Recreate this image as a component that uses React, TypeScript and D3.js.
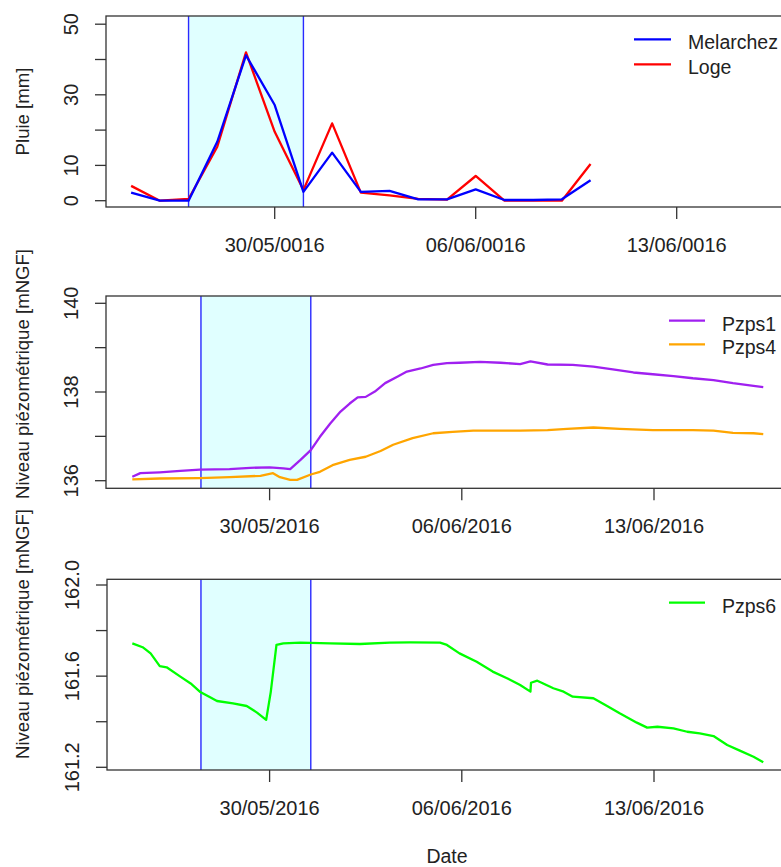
import React from 'react';
import * as d3 from 'd3';

const parse = d3.timeParse('%Y-%m-%d %H:%M');

// ---------- Data ----------
const rainDates = [
  '2016-05-25 00:00', '2016-05-26 00:00', '2016-05-27 00:00', '2016-05-28 00:00',
  '2016-05-29 00:00', '2016-05-30 00:00', '2016-05-31 00:00', '2016-06-01 00:00',
  '2016-06-02 00:00', '2016-06-03 00:00', '2016-06-04 00:00', '2016-06-05 00:00',
  '2016-06-06 00:00', '2016-06-07 00:00', '2016-06-08 00:00', '2016-06-09 00:00',
  '2016-06-10 00:00',
];
const melarchez = [2.3, 0, 0, 16.7, 41.2, 27.1, 2.5, 13.6, 2.5, 2.8, 0.4, 0.4, 3.2, 0.2, 0.2, 0.4, 5.8];
const loge = [4.2, 0, 0.5, 15.3, 42.0, 19.5, 3.0, 21.9, 2.3, 1.5, 0.5, 0.3, 7.0, 0, 0, 0, 10.4];

const pzps1Dates = [
  '2016-05-25 00:00', '2016-05-25 07:00', '2016-05-26 00:00', '2016-05-26 18:00',
  '2016-05-27 11:00', '2016-05-28 13:00', '2016-05-29 07:00', '2016-05-30 00:00',
  '2016-05-30 12:00', '2016-05-30 18:00', '2016-05-31 03:00', '2016-05-31 12:00',
  '2016-05-31 20:00', '2016-06-01 05:00', '2016-06-01 14:00', '2016-06-01 22:00',
  '2016-06-02 05:00', '2016-06-02 12:00', '2016-06-02 20:00', '2016-06-03 05:00',
  '2016-06-03 16:00', '2016-06-04 00:00', '2016-06-04 12:00', '2016-06-04 23:00',
  '2016-06-05 11:00', '2016-06-05 22:00', '2016-06-06 16:00', '2016-06-07 10:00',
  '2016-06-08 03:00', '2016-06-08 12:00', '2016-06-09 03:00', '2016-06-10 01:00',
  '2016-06-10 19:00', '2016-06-11 12:00', '2016-06-12 06:00', '2016-06-12 23:00',
  '2016-06-13 17:00', '2016-06-14 10:00', '2016-06-15 04:00', '2016-06-15 21:00',
  '2016-06-16 15:00', '2016-06-16 23:30',
];
const pzps1 = [
  136.09, 136.17, 136.19, 136.22, 136.25, 136.26, 136.29, 136.30,
  136.28, 136.26, 136.47, 136.69, 136.99, 137.29, 137.56, 137.74,
  137.88, 137.89, 138.01, 138.20, 138.35, 138.46, 138.53, 138.61,
  138.65, 138.66, 138.68, 138.66, 138.63, 138.69, 138.62, 138.61,
  138.57, 138.51, 138.44, 138.40, 138.36, 138.31, 138.27, 138.20,
  138.14, 138.11,
];

const pzps4Dates = [
  '2016-05-25 00:00', '2016-05-26 00:00', '2016-05-27 11:00', '2016-05-28 13:00',
  '2016-05-29 16:00', '2016-05-30 03:00', '2016-05-30 09:00', '2016-05-30 18:00',
  '2016-05-31 00:00', '2016-05-31 12:00', '2016-05-31 20:00', '2016-06-01 07:00',
  '2016-06-01 22:00', '2016-06-02 12:00', '2016-06-03 01:00', '2016-06-03 12:00',
  '2016-06-04 05:00', '2016-06-04 23:00', '2016-06-05 16:00', '2016-06-06 10:00',
  '2016-06-07 10:00', '2016-06-08 03:00', '2016-06-09 03:00', '2016-06-09 20:00',
  '2016-06-10 19:00', '2016-06-11 18:00', '2016-06-12 23:00', '2016-06-14 10:00',
  '2016-06-15 04:00', '2016-06-15 21:00', '2016-06-16 15:00', '2016-06-16 23:30',
];
const pzps4 = [
  136.03, 136.05, 136.06, 136.08, 136.11, 136.17, 136.08, 136.02,
  136.02, 136.14, 136.20, 136.35, 136.47, 136.54, 136.67, 136.81,
  136.96, 137.07, 137.10, 137.13, 137.13, 137.13, 137.14, 137.17,
  137.20, 137.17, 137.14, 137.14, 137.13, 137.08, 137.07, 137.05,
];

const pzps6Dates = [
  '2016-05-25 00:00', '2016-05-25 09:00', '2016-05-25 16:00', '2016-05-26 00:00',
  '2016-05-26 06:00', '2016-05-26 18:00', '2016-05-27 03:00', '2016-05-27 11:00',
  '2016-05-27 20:00', '2016-05-28 02:00', '2016-05-28 16:00', '2016-05-29 04:00',
  '2016-05-29 13:00', '2016-05-29 21:00', '2016-05-30 01:00', '2016-05-30 06:00',
  '2016-05-30 12:00', '2016-05-31 03:00', '2016-06-01 05:00', '2016-06-02 07:00',
  '2016-06-03 09:00', '2016-06-04 03:00', '2016-06-05 05:00', '2016-06-05 11:00',
  '2016-06-05 22:00', '2016-06-06 13:00', '2016-06-07 03:00', '2016-06-07 16:00',
  '2016-06-08 03:00', '2016-06-08 12:00', '2016-06-08 12:30', '2016-06-08 18:00',
  '2016-06-09 08:00', '2016-06-09 17:00', '2016-06-10 01:00', '2016-06-10 19:00',
  '2016-06-11 07:00', '2016-06-11 18:00', '2016-06-12 09:00', '2016-06-12 18:00',
  '2016-06-13 03:00', '2016-06-13 17:00', '2016-06-14 05:00', '2016-06-14 16:00',
  '2016-06-15 04:00', '2016-06-15 16:00', '2016-06-16 03:00', '2016-06-16 15:00',
  '2016-06-16 23:30',
];
const pzps6 = [
  161.744, 161.727, 161.700, 161.644, 161.639, 161.598, 161.568, 161.532,
  161.507, 161.491, 161.481, 161.469, 161.440, 161.408, 161.530, 161.737,
  161.744, 161.747, 161.744, 161.741, 161.747, 161.748, 161.747, 161.737,
  161.700, 161.663, 161.620, 161.590, 161.561, 161.532, 161.571, 161.580,
  161.547, 161.532, 161.510, 161.503, 161.469, 161.437, 161.396, 161.374,
  161.378, 161.371, 161.356, 161.349, 161.337, 161.298, 161.273, 161.246,
  161.222,
];

const shadeRain = ['2016-05-27 00:00', '2016-05-31 00:00'];
const shadePiezo = ['2016-05-27 12:00', '2016-05-31 12:00'];
const tickDates = ['2016-05-30 00:00', '2016-06-06 00:00', '2016-06-13 00:00'];

const rainTicks = [0, 10, 20, 30, 40, 50];
const rainLabels = [0, 10, 30, 50];
const p14Ticks = [136, 137, 138, 139, 140];
const p14Labels = [136, 138, 140];
const p6Ticks = [161.2, 161.4, 161.6, 161.8, 162.0];
const p6Labels = [161.2, 161.6, 162.0];

// ---------- Styling ----------
const FONT = '"Liberation Sans", Arial, Helvetica, sans-serif';
const TXT = '#222';
const AX = '#333';

type Series = { dates: string[]; values: number[]; color: string; name: string };

function Panel(props: {
  left: number; top: number; bottom: number; right: number;
  x: d3.ScaleTime<number, number>;
  y: d3.ScaleLinear<number, number>;
  series: Series[];
  shade: string[];
  yTicks: number[]; yLabels: number[]; yFmt: (v: number) => string;
  xFmt: (d: Date) => string;
  ylabel: string; ylabelY: number;
  legendX: number; legendY: number; legendStep: number; legendLen: number;
  legendOrder: number[];
  clipId: string;
}) {
  const p = props;
  const s0 = p.x(parse(p.shade[0])!);
  const s1 = p.x(parse(p.shade[1])!);
  const line = d3.line<[Date, number]>().x(d => p.x(d[0])).y(d => p.y(d[1]));
  return (
    <g>
      <defs>
        <clipPath id={p.clipId}>
          <rect x={p.left} y={p.top} width={p.right - p.left} height={p.bottom - p.top} />
        </clipPath>
      </defs>
      <g clipPath={`url(#${p.clipId})`}>
        <rect x={s0} y={p.top} width={s1 - s0} height={p.bottom - p.top} fill="#E0FFFF" />
        <line x1={s0} x2={s0} y1={p.top} y2={p.bottom} stroke="#2a2aff" strokeWidth={1.4} />
        <line x1={s1} x2={s1} y1={p.top} y2={p.bottom} stroke="#2a2aff" strokeWidth={1.4} />
        {p.series.map((s, i) => {
          const pts: [Date, number][] = s.dates.map((d, j) => [parse(d)!, s.values[j]]);
          return <path key={i} d={line(pts) || ''} fill="none" stroke={s.color} strokeWidth={2.3} strokeLinejoin="round" />;
        })}
      </g>
      <rect x={p.left} y={p.top} width={p.right - p.left} height={p.bottom - p.top} fill="none" stroke={AX} strokeWidth={1.3} />
      {p.yTicks.map((t, i) => (
        <line key={i} x1={p.left - 11} x2={p.left} y1={p.y(t)} y2={p.y(t)} stroke={AX} strokeWidth={1.3} />
      ))}
      {p.yLabels.map((t, i) => (
        <text key={i} transform={`translate(${p.left - 28},${p.y(t)}) rotate(-90)`} textAnchor="middle"
          fontFamily={FONT} fontSize={20} fill={TXT}>{p.yFmt(t)}</text>
      ))}
      {tickDates.map((d, i) => {
        const xx = p.x(parse(d)!);
        return (
          <g key={i}>
            <line x1={xx} x2={xx} y1={p.bottom} y2={p.bottom + 12} stroke={AX} strokeWidth={1.3} />
            <text x={xx} y={p.bottom + 44.5} textAnchor="middle" fontFamily={FONT} fontSize={20} fill={TXT}>
              {p.xFmt(parse(d)!)}
            </text>
          </g>
        );
      })}
      <text transform={`translate(29,${p.ylabelY}) rotate(-90)`} textAnchor="middle" fontFamily={FONT}
        fontSize={18.6} fill={TXT}>{p.ylabel}</text>
      {p.legendOrder.map((si, i) => {
        const s = p.series[si];
        const ly = p.legendY + i * p.legendStep;
        return (
          <g key={i}>
            <line x1={p.legendX} x2={p.legendX + p.legendLen} y1={ly} y2={ly} stroke={s.color} strokeWidth={2.2} />
            <text x={p.legendX + p.legendLen + 17} y={ly + 10} fontFamily={FONT} fontSize={19.5} fill={TXT}>{s.name}</text>
          </g>
        );
      })}
    </g>
  );
}

export default function App() {
  const RIGHT = 800;
  const xTopRef = d3.scaleTime()
    .domain([parse(tickDates[0])!, parse(tickDates[2])!]).range([274.7, 676.7]);
  const xTop = d3.scaleTime().domain([xTopRef.invert(106), xTopRef.invert(RIGHT)]).range([106, RIGHT]);
  const yTop = d3.scaleLinear().domain([0, 50]).range([200.7, 24.2]);

  const xPzRef = d3.scaleTime()
    .domain([parse(tickDates[0])!, parse(tickDates[2])!]).range([269.6, 654]);
  const xMid = d3.scaleTime().domain([xPzRef.invert(106), xPzRef.invert(RIGHT)]).range([106, RIGHT]);
  const yMid = d3.scaleLinear().domain([136, 140]).range([480.7, 303.3]);

  const xBot = d3.scaleTime().domain([xPzRef.invert(107), xPzRef.invert(RIGHT)]).range([107, RIGHT]);
  const yBot = d3.scaleLinear().domain([161.2, 162.0]).range([767.3, 585]);

  const fmtTop = d3.timeFormat('%d/%m/0016');
  const fmtPz = d3.timeFormat('%d/%m/%Y');

  return (
    <svg width={781} height={867} style={{ position: 'absolute', left: 0, top: 0, background: '#fff' }}>
      <rect x={0} y={0} width={781} height={867} fill="#fff" />
      <Panel left={106} top={16} bottom={207} right={RIGHT} x={xTop} y={yTop}
        series={[
          { dates: rainDates, values: loge, color: '#FF0000', name: 'Loge' },
          { dates: rainDates, values: melarchez, color: '#0000FF', name: 'Melarchez' },
        ]}
        shade={shadeRain} yTicks={rainTicks} yLabels={rainLabels} yFmt={v => String(v)}
        xFmt={fmtTop} ylabel="Pluie [mm]" ylabelY={111.5}
        legendX={634} legendY={39.3} legendStep={25} legendLen={37} legendOrder={[1, 0]} clipId="c1" />
      <Panel left={106} top={296} bottom={488.3} right={RIGHT} x={xMid} y={yMid}
        series={[
          { dates: pzps1Dates, values: pzps1, color: '#A020F0', name: 'Pzps1' },
          { dates: pzps4Dates, values: pzps4, color: '#FFA500', name: 'Pzps4' },
        ]}
        shade={shadePiezo} yTicks={p14Ticks} yLabels={p14Labels} yFmt={v => String(v)}
        xFmt={fmtPz} ylabel="Niveau piézométrique [mNGF]" ylabelY={374}
        legendX={669} legendY={320.7} legendStep={23.6} legendLen={36} legendOrder={[0, 1]} clipId="c2" />
      <Panel left={107} top={579.3} bottom={770} right={RIGHT} x={xBot} y={yBot}
        series={[
          { dates: pzps6Dates, values: pzps6, color: '#00FF00', name: 'Pzps6' },
        ]}
        shade={shadePiezo} yTicks={p6Ticks} yLabels={p6Labels} yFmt={v => v.toFixed(1)}
        xFmt={fmtPz} ylabel="Niveau piézométrique [mNGF]" ylabelY={634}
        legendX={669} legendY={602.7} legendStep={24} legendLen={36} legendOrder={[0]} clipId="c3" />
      <text x={447} y={863} textAnchor="middle" fontFamily={FONT} fontSize={19.5} fill={TXT}>Date</text>
    </svg>
  );
}
